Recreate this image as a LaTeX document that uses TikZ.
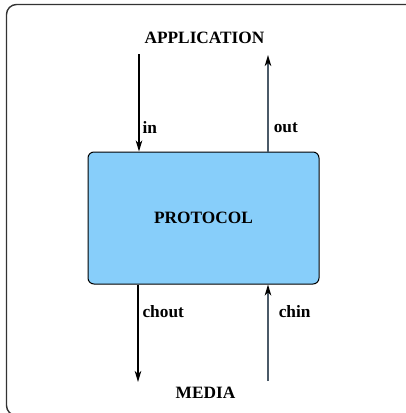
\documentclass[tikz,border=0pt]{standalone}
\usepackage{fontspec}
\setmainfont{Liberation Serif}
\usepackage{xcolor}
\usetikzlibrary{
  positioning,
  arrows.meta,
  calc
}
\definecolor{protoblue}{HTML}{87CEFA}
\definecolor{chanline}{HTML}{4B5A68}

\begin{document}
\begin{tikzpicture}[x=1pt,y=-1pt,>={Stealth[length=11pt,width=6.5pt,inset=3pt]},
    every node/.style={font=\fontsize{17.3}{20}\selectfont\bfseries,text=black},
    blackflow/.style={->,line width=1.1pt,black},
    greyflow/.style={-{Stealth[length=11pt,width=6.5pt,inset=3pt,color=black]},line width=1.6pt,chanline}]
    \useasboundingbox (0,0) rectangle (406,413);
    \clip (0,0) rectangle (406,413);
    \draw[line width=1.4pt,rounded corners=10pt,black!80] (6.5,4.5) rectangle (422,415.5);
    \node (app) at (204.5,38){APPLICATION};
    \node[draw,line width=1pt,fill=protoblue,rounded corners=6pt,
      minimum width=231pt,minimum height=132pt] (proto) at (203.5,218){PROTOCOL};
    \node (media) at (205.5,393){MEDIA};
    \coordinate (inTop) at (139,54);
    \coordinate (outTop) at (268,55);
    \coordinate (choutEnd) at (138,382);
    \coordinate (chinStart) at (268,381);
    \draw[blackflow] (inTop) -- (inTop |- proto.north) node[pos=0.75,right,inner sep=3pt]{in};
    \draw[greyflow] (outTop |- proto.north) -- (outTop) node[pos=0.25,right,inner sep=5pt]{out};
    \draw[blackflow] (choutEnd |- proto.south) -- (choutEnd) node[pos=0.28,right,inner sep=4pt]{chout};
    \draw[greyflow] (chinStart) -- (chinStart |- proto.south) node[pos=0.72,right,inner sep=10pt]{chin};
  \end{tikzpicture}
\end{document}
